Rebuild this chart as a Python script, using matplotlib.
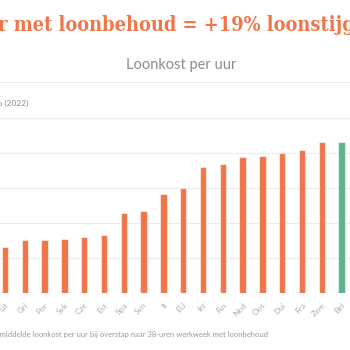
import matplotlib
matplotlib.use("Agg")
import matplotlib.pyplot as plt
import numpy as np

# landen (afgekort) en loonkost per uur
landen = ["Lit", "Gri", "Por", "Svk", "Cze", "Est", "Spa", "Svn", "It", "EU",
          "Ier", "Fin", "Ned", "Oos", "Dui", "Fra", "Zwe", "Bel"]
loonkost = [13.0, 15.0, 15.1, 15.5, 16.0, 16.4, 22.7, 23.3, 28.1, 29.9,
            35.8, 36.8, 38.8, 39.0, 39.8, 40.8, 42.9, 42.9]
markeer = "Bel"

titel = "r met loonbehoud = +19% loonstijging"
subtitel = "Loonkost per uur"
as_titel = "Euro (2022)"
voetnoot = "Gemiddelde loonkost per uur bij overstap naar 38-uren werkweek met loonbehoud"

ORANJE = "#f0764a"
GROEN = "#5bb58a"
GRIJS = "#9a9a9a"

W = 350.0
fig = plt.figure(figsize=(3.5, 3.5), dpi=100)
fig.patch.set_facecolor("white")

# plotgebied loopt links buiten beeld
ax = fig.add_axes([0, (350 - 293) / W, 1, (293 - 82.4) / W])
x = np.arange(len(landen))
kleuren = [GROEN if l == markeer else ORANJE for l in landen]
ax.bar(x, loonkost, width=0.33, color=kleuren, edgecolor=(1, 1, 1, 0.55),
       linewidth=0.8, zorder=3)

ax.set_xlim(-5 / 19.8, -5 / 19.8 + W / 19.8)
ax.set_ylim(0, 60)
ax.set_yticks(np.arange(0, 61, 10))
ax.yaxis.grid(True, color="#ebebeb", linewidth=0.8, zorder=0)
ax.tick_params(axis="y", left=False, labelleft=False)
for s in ax.spines.values():
    s.set_visible(False)

ax.set_xticks(x)
ax.set_xticklabels(landen, rotation=45, ha="right", rotation_mode="anchor",
                   fontsize=6, color="#b0b0b0", family="Lato")
ax.tick_params(axis="x", length=0, pad=6)

fig.text(-2 / W, 1 - 31 / W, titel, color=ORANJE, fontsize=14.3,
         fontweight="bold", fontstretch="condensed", family="DejaVu Serif",
         ha="left", va="baseline")
fig.text(181 / W, 1 - 65 / W, subtitel, color="#8c8c8c", fontsize=10.5,
         family="Lato", ha="center", va="center")
fig.text(28 / W, 1 - 103 / W, as_titel, color="#8c8c8c", fontsize=6,
         family="Lato", ha="right", va="center")
fig.text(-10 / W, 1 - 335 / W, voetnoot, color=GRIJS, fontsize=5.5,
         family="Lato", ha="left", va="center")

fig.savefig("out.png", dpi=100)
